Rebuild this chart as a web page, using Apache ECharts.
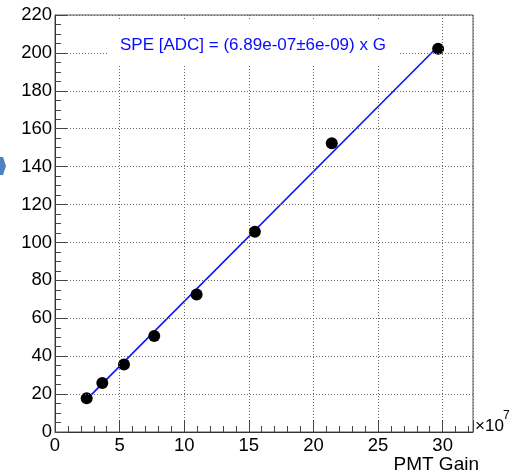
<!DOCTYPE html>
<html>
<head>
<meta charset="utf-8">
<script src="https://cdn.jsdelivr.net/npm/echarts@6/dist/echarts.min.js"></script>
<style>html,body{margin:0;padding:0;background:#fff}#c{width:513px;height:474px}</style>
</head>
<body>
<div id="c"></div>
<script>
// PMT gain (units of 1e7) and SPE [ADC]
var gain = [2.45, 3.66, 5.34, 7.68, 10.96, 15.47, 21.42, 29.65];
var spe = [17.8, 25.8, 35.6, 50.6, 72.6, 105.7, 152.4, 202.2];
// fitted line endpoints
var fitGain = [2.55, 29.65];
var fitSpe = [17.9, 203.5];
var fitLabel = 'SPE [ADC] = (6.89e-07\u00b16e-09) x G';
var xTitle = 'PMT Gain';
var yTicks = [0, 20, 40, 60, 80, 100, 120, 140, 160, 180, 200, 220];
var xTicks = [0, 5, 10, 15, 20, 25, 30];

var FONT = 'Liberation Sans, Arial, Helvetica, sans-serif';
var XMAX = 32.35, YMAX = 220;
var chart = echarts.init(document.getElementById('c'), null, {renderer: 'canvas'});
var axisCol = '#333';
var tickCol = '#444';
var gridLine = {show: true, lineStyle: {color: '#666', type: [1, 2], width: 1}};
var option = {
  backgroundColor: '#fff',
  animation: false,
  title: {
    text: fitLabel, left: 107, top: 20,
    padding: [17, 14, 10, 13],
    backgroundColor: '#fff',
    textStyle: {color: '#0a0aff', fontSize: 17, fontWeight: 'normal', fontFamily: FONT}
  },
  grid: {left: 55, right: 40, top: 15, bottom: 42, show: true, borderColor: '#555', borderWidth: 1, backgroundColor: 'transparent'},
  xAxis: [
    {type: 'value', min: 0, max: XMAX, interval: 5, position: 'bottom', z: 5,
      axisLine: {show: true, lineStyle: {color: axisCol, width: 1}},
      axisTick: {show: true, inside: true, length: 12, lineStyle: {color: tickCol, width: 1}},
      axisLabel: {show: true, fontSize: 18.5, color: '#000', fontFamily: FONT, margin: 4,
        formatter: function (v) { return xTicks.indexOf(v) >= 0 ? String(v) : ''; }},
      splitLine: gridLine},
    {type: 'value', min: 0, max: XMAX, interval: 1, position: 'bottom', z: 5,
      axisLine: {show: false}, axisLabel: {show: false}, splitLine: {show: false},
      axisTick: {show: true, inside: true, length: 6, lineStyle: {color: tickCol, width: 1}}}
  ],
  yAxis: [
    {type: 'value', min: 0, max: YMAX, interval: 20, position: 'left', z: 5,
      axisLine: {show: true, lineStyle: {color: axisCol, width: 1}},
      axisTick: {show: true, inside: true, length: 12, lineStyle: {color: tickCol, width: 1}},
      axisLabel: {fontSize: 18.5, color: '#000', fontFamily: FONT, margin: 3,
        formatter: function (v) { return yTicks.indexOf(v) >= 0 ? String(v) : ''; }},
      splitLine: gridLine},
    {type: 'value', min: 0, max: YMAX, interval: 5, position: 'left', z: 5,
      axisLine: {show: false}, axisLabel: {show: false}, splitLine: {show: false},
      axisTick: {show: true, inside: true, length: 6, lineStyle: {color: tickCol, width: 1}}}
  ],
  series: [
    {type: 'line', xAxisIndex: 0, yAxisIndex: 0, showSymbol: false, symbol: 'none', z: 3,
      lineStyle: {color: '#1010ff', width: 1.6},
      data: fitGain.map(function (g, i) { return [g, fitSpe[i]]; })},
    {type: 'scatter', xAxisIndex: 0, yAxisIndex: 0, symbol: 'circle', symbolSize: 12, z: 4,
      itemStyle: {color: '#000', opacity: 1},
      emphasis: {disabled: true},
      data: gain.map(function (g, i) { return [g, spe[i]]; })}
  ],
  graphic: [
    {type: 'text', right: 34, top: 455,
      style: {text: xTitle, font: '19px ' + FONT, fill: '#000'}},
    {type: 'text', left: 475, top: 418,
      style: {text: '\u00d710', font: '17px ' + FONT, fill: '#000'}},
    {type: 'text', left: 503, top: 410,
      style: {text: '7', font: '12px ' + FONT, fill: '#000'}},
    {type: 'polygon', shape: {points: [[0, 157], [3, 157], [6, 166], [3, 175], [0, 175]]},
      style: {fill: '#4f82c2'}}
  ]
};
chart.setOption(option);
</script>
</body>
</html>
